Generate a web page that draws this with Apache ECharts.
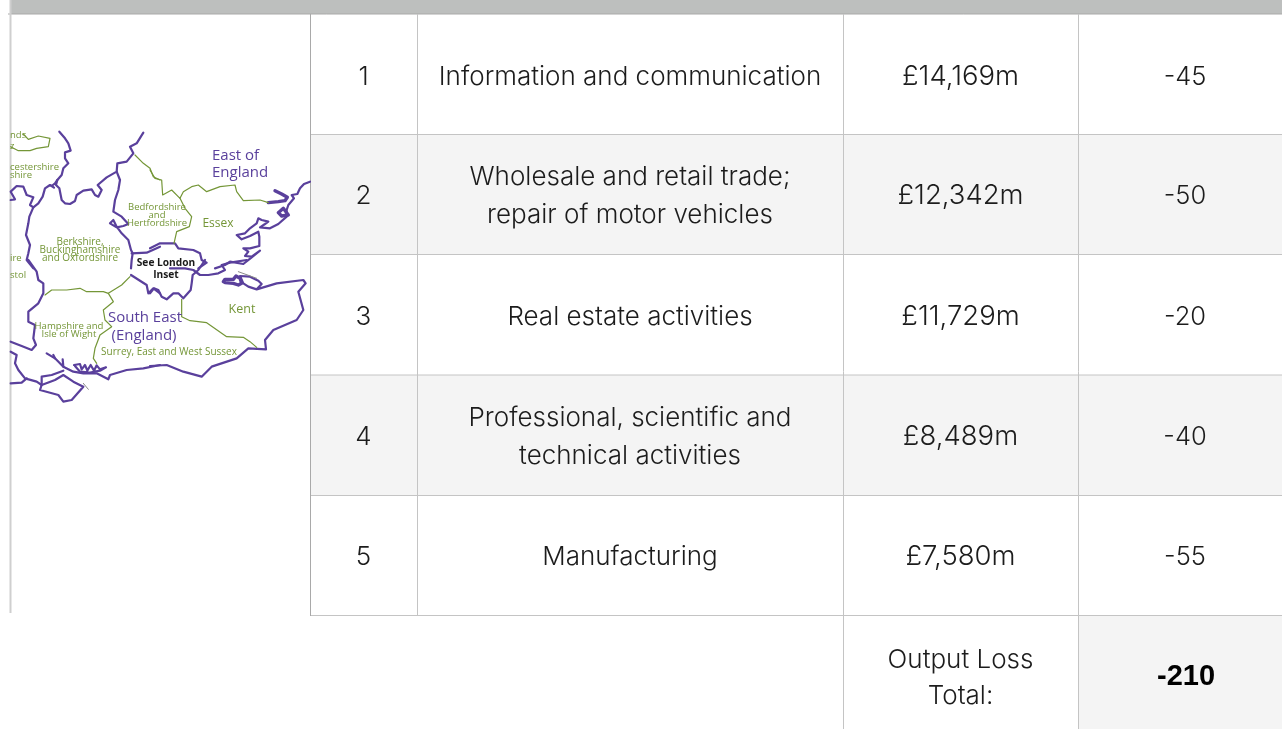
<!DOCTYPE html>
<html><head><meta charset="utf-8">
<style>html,body{margin:0;padding:0;background:#fff}#c{width:1282px;height:729px}</style>
<script src="https://cdn.jsdelivr.net/npm/echarts@6/dist/echarts.min.js"></script>
</head><body><div id="c"></div>
<script>
// ---- table content ----
const ranks = ['1','2','3','4','5'];
const topics = ['Information and communication','Wholesale and retail trade;\nrepair of motor vehicles','Real estate activities','Professional, scientific and\ntechnical activities','Manufacturing'];
const outputs = ['£14,169m','£12,342m','£11,729m','£8,489m','£7,580m'];
const losses = [-45,-50,-20,-40,-55];
const totalLabel = 'Output Loss\nTotal:';
const totalValue = -210;

// ---- map labels: text, x, y, size, colour key, weight, align ----
const mapLabels = [
 ['East of',212,156,15,'p','normal','left'],['England',212,173,15,'p','normal','left'],
 ['Bedfordshire',157,207,9.5,'g','normal','center'],['and',157,215,9.5,'g','normal','center'],['Hertfordshire',157,223,9.5,'g','normal','center'],
 ['Essex',218,224,12,'g','normal','center'],
 ['Berkshire,',80,242,10,'g','normal','center'],['Buckinghamshire',80,250,10,'g','normal','center'],['and Oxfordshire',80,258,10,'g','normal','center'],
 ['See London',166,263,10.2,'k','bold','center'],['Inset',166,275,10.2,'k','bold','center'],
 ['Kent',242,309,12.5,'g','normal','center'],
 ['Hampshire and',69,326,9.6,'g','normal','center'],['Isle of Wight',69,334,9.6,'g','normal','center'],
 ['South East',145,318,15,'p','normal','center'],['(England)',144,336,15,'p','normal','center'],
 ['Surrey, East and West Sussex',169,352,10,'g','normal','center'],
 ['nds',10,135,9.5,'g','normal','left'],['z',10,146,9.5,'g','normal','left'],
 ['cestershire',10,167,9.5,'g','normal','left'],['shire',10,175,9.5,'g','normal','left'],
 ['ire',10,258,9.5,'g','normal','left'],['stol',10,275,9.5,'g','normal','left']
];

// ---- map outlines, traced: [originX, originY, traced points at 3x] ----
const purpleOutlines = [
 [0,120,[178,35,195,55,205,70,212,92,195,97,195,115,205,130,190,145,185,165,172,180,168,195,178,205,182,225,185,240,195,250,210,252,225,243,230,225,250,212,275,208,285,225,295,230,305,210,293,195,320,172,350,155,352,130,380,125,400,100,390,80,410,70,430,38]],
 [0,120,[350,155,360,180,355,210,345,240,340,275,365,290,385,312,370,318,350,322,330,310,340,300,350,320,365,340,385,360,393,390,398,400,395,420,393,445]],
 [0,120,[172,180,165,190,155,198,162,203,150,195,135,205,128,230,115,250,100,262,90,255,100,232,80,225,70,200,50,198,32,215,45,238,32,240]],
 [0,120,[100,262,88,290,85,310,78,345,90,375,85,400,80,420,100,445]],
 [0,260,[85,0,110,35,115,60,130,70,130,100,135,105,115,130,85,155,85,185,105,195,100,235,108,255,95,270,65,258,32,245]],
 [0,260,[32,275,50,285,45,310,55,330,75,355,110,365,125,375]],
 [0,260,[32,370,65,368,80,355]],
 [0,260,[140,280,165,295,190,320,220,335,250,340,290,340,325,358,330,345,380,330,430,325,480,315]],
 [0,260,[165,295,160,285]],[0,260,[190,320,188,298]],
 [0,260,[222,315,240,312,245,328,255,315,262,332,272,315,282,332,290,316,300,328,318,322,300,332,270,338,240,335,225,318]],
 [0,260,[125,375,120,390,175,405,190,425,215,420,250,380,220,365,190,345,165,360,125,375]],
 [0,260,[125,375,125,350,155,345,190,332]],
 [150,260,[0,318,50,315,100,335,155,350,185,320,260,295,295,265,348,268,345,240,370,210,440,180,460,150,445,95,467,70,460,60,380,70,320,88,335,72,325,62,300,50,270,48,280,70,295,80,320,88]],
 [150,260,[60,25,105,25,130,30,150,45,175,45,205,40,225,30,215,15,240,8,290,0]],
 [150,120,[0,385,30,370,75,370,85,385,130,390,150,400,155,420,170,428,145,445]],
 [150,260,[165,0,145,30,128,45,125,70,122,90,100,115,85,100,70,100,50,118,35,110,25,90,12,85,0,100]],
 [0,260,[393,45,440,75,445,100,460,85,480,100]],
 [0,120,[395,400,440,398,480,380]],
 [150,120,[480,185,462,192,450,205,442,222,425,225,432,235,415,255,410,270,410,290,385,312,360,325,330,322,345,312,355,305,335,300,325,295,320,310,300,325,285,340,260,345,275,358,300,348,325,335,328,350,328,378,300,385,280,385,295,395,285,408,305,410,330,392,305,412,280,432,240,425,225,435,195,445]],
];
const purpleThick = [
 [150,120,[375,212,395,222,412,232,405,242,385,245,355,248]],
 [150,120,[385,278,400,265,415,285,395,288,385,278]],
 [150,260,[220,65,225,58,250,58,258,48,270,55,275,70,265,75,250,70,225,68]],
];
const greenOutlines = [
 [0,120,[405,105,430,130,450,145,460,170,480,180]],
 [150,120,[0,150,15,175,35,180,38,225,65,210,90,235,100,215,125,200,145,195,170,215,210,200,255,195,260,215,280,242,330,240,355,248]],
 [150,120,[90,235,105,265,125,290,118,320,80,335,72,370]],
 [0,120,[70,42,85,58,115,48,150,55,145,80,110,85,90,92,55,92,32,80]],
 [0,260,[135,105,155,90,200,90,240,85,260,95,310,95,325,100,365,75,390,50]],
 [0,260,[325,100,340,125,310,150,315,180,335,200,300,225,285,265,280,295,290,310]],
 [150,260,[95,118,95,170,120,182,170,188,230,230,280,232,300,245,320,262]],
];
const greyOutlines = [
 [0,260,[250,370,265,388]],
 [150,260,[265,35,320,55]],
];

// ---- layout ----
const colX = [310,417,843,1078,1282];
const rowY = [14,134.5,254.5,375,495.5,615.5];
const totalBottom = 729;
const LEFT = 10;
const COLORS = {p:'#5a409c',g:'#749637',k:'#1a1a1a',line:'#c4c4c4',dark:'#a9a9a9',band:'#bdbfbe',alt:'#f4f4f4',text:'#1c1c1c'};
const TABLE_FONT = 'Inter, "Open Sans", sans-serif';

function toLine(o){const [ox,oy,p]=o;const d=[];for(let i=0;i<p.length;i+=2)d.push([ox+p[i]/3,oy+p[i+1]/3]);return d;}
function lineSeries(o,color,width){return {type:'line',data:toLine(o),showSymbol:false,symbol:'none',silent:true,animation:false,z:3,clip:false,
  lineStyle:{color:color,width:width,join:'round',cap:'round'}};}

function rect(api,x0,y0,x1,y1,fill){const a=api.coord([x0,y0]),b=api.coord([x1,y1]);return {type:'rect',shape:{x:a[0],y:a[1],width:b[0]-a[0],height:b[1]-a[1]},style:{fill:fill}};}
function seg(api,x0,y0,x1,y1,c,w){const a=api.coord([x0,y0]),b=api.coord([x1,y1]);return {type:'line',shape:{x1:a[0],y1:a[1],x2:b[0],y2:b[1]},style:{stroke:c,lineWidth:w||1}};}
function txt(api,s,x,y,size,o){const a=api.coord([x,y]);return {type:'text',x:a[0],y:a[1],style:Object.assign({text:s,fill:COLORS.text,font:'300 '+size+'px '+TABLE_FONT,align:'center',verticalAlign:'middle'},o||{})};}

function renderTable(params,api){
  const kids=[];
  kids.push(rect(api,LEFT,0,1282,rowY[0],COLORS.band));
  ranks.forEach((r,i)=>{ if(i%2===1) kids.push(rect(api,colX[0],rowY[i],1282,rowY[i+1],COLORS.alt)); });
  kids.push(rect(api,colX[3],rowY[5],1282,totalBottom,COLORS.alt));
  kids.push(seg(api,LEFT-2,rowY[0],1282,rowY[0],COLORS.dark,1));
  for(let i=1;i<rowY.length;i++) kids.push(seg(api,colX[0],rowY[i],1282,rowY[i],COLORS.line,1));
  kids.push(seg(api,LEFT+.5,0,LEFT+.5,613,'#cfcfcf',2));
  kids.push(seg(api,colX[0]+.5,rowY[0],colX[0]+.5,616,COLORS.dark,1));
  kids.push(seg(api,colX[1]+.5,rowY[0],colX[1]+.5,616,COLORS.line,1));
  kids.push(seg(api,colX[2]+.5,rowY[0],colX[2]+.5,729,COLORS.line,1));
  kids.push(seg(api,colX[3]+.5,rowY[0],colX[3]+.5,729,COLORS.line,1));
  const cy=[77,196,317,437,557];
  ranks.forEach((r,i)=>{
    const y=cy[i];
    kids.push(txt(api,r,(colX[0]+colX[1])/2,y,26));
    kids.push(txt(api,topics[i],(colX[1]+colX[2])/2,y,26,{lineHeight:38}));
    kids.push(txt(api,outputs[i],(colX[2]+colX[3])/2,y,27.5));
    kids.push(txt(api,String(losses[i]),(colX[3]+colX[4])/2+5,y,25.5));
  });
  kids.push(txt(api,totalLabel,(colX[2]+colX[3])/2,678,26,{lineHeight:36}));
  kids.push(txt(api,String(totalValue),1186,677,29,{font:'bold 29px "Liberation Sans", Arial, sans-serif',fill:'#000'}));
  return {type:'group',children:kids};
}
function renderLabel(params,api){
  const l=mapLabels[params.dataIndex];
  const a=api.coord([l[1],l[2]]);
  return {type:'text',x:a[0],y:a[1],style:{text:l[0],fill:COLORS[l[4]],align:l[6],verticalAlign:'middle',
    font:l[5]+' '+l[3]+'px "Open Sans", sans-serif'}};
}

const chart=echarts.init(document.getElementById('c'),null,{renderer:'canvas'});
chart.setOption({
  animation:false,backgroundColor:'#fff',
  grid:{left:0,right:0,top:0,bottom:0,containLabel:false},
  xAxis:{type:'value',min:0,max:1282,show:false},
  yAxis:{type:'value',min:0,max:729,inverse:true,show:false},
  tooltip:{show:false},
  series:[
    {type:'custom',coordinateSystem:'cartesian2d',data:[[0,0]],renderItem:renderTable,silent:true,z:1,clip:false},
    ...purpleOutlines.map(o=>lineSeries(o,COLORS.p,2.2)),
    ...purpleThick.map(o=>lineSeries(o,COLORS.p,3.4)),
    ...greenOutlines.map(o=>lineSeries(o,COLORS.g,1.2)),
    ...greyOutlines.map(o=>lineSeries(o,'#8a8a8a',1)),
    {type:'custom',coordinateSystem:'cartesian2d',data:mapLabels.map(l=>[l[1],l[2]]),renderItem:renderLabel,silent:true,z:4,clip:false}
  ]
});
</script></body></html>
